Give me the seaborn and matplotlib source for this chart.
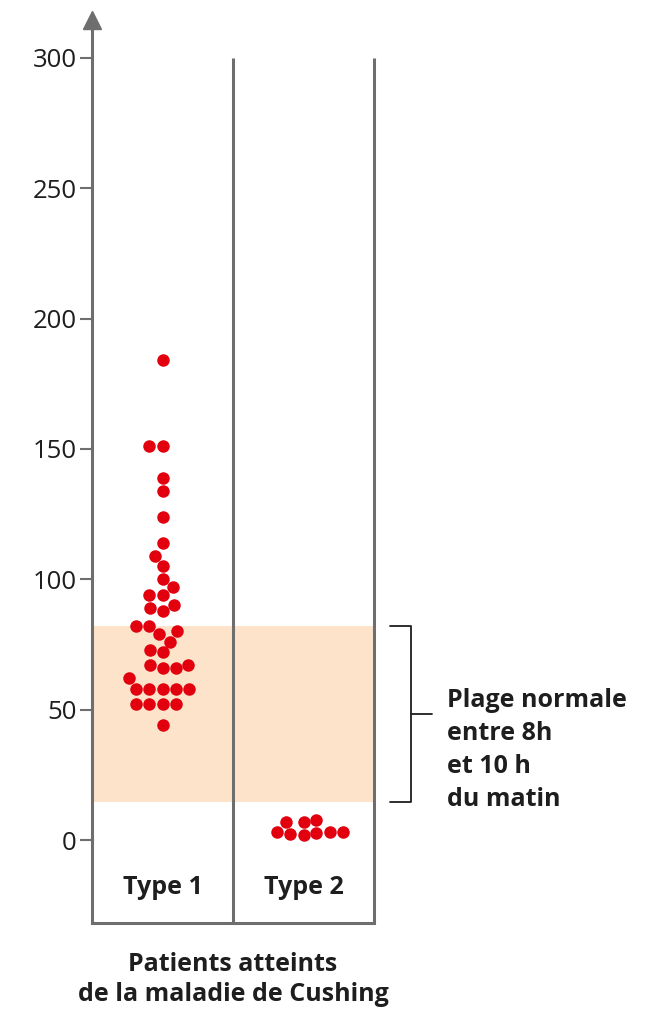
"""Cortisol levels of Cushing patients, dot plot with the normal morning range."""
import matplotlib
matplotlib.use("Agg")
import matplotlib.pyplot as plt
import pandas as pd
import seaborn as sns

CATEGORIES = ["Type 1", "Type 2"]
TYPE1_VALUES = [184, 151, 151, 139, 134, 124, 114, 109, 105, 100, 97, 94, 94,
                90, 89, 88, 82, 80, 82, 79, 76, 73, 72, 67, 67, 66, 66, 62,
                58, 58, 58, 58, 58, 52, 52, 52, 52, 44]
TYPE2_VALUES = [3, 2.5, 7, 3, 7, 2, 7.7, 3.2, 2.8]
NORMAL_RANGE = (14.5, 82)
Y_TICKS = [0, 50, 100, 150, 200, 250, 300]
RANGE_LABEL = "Plage normale\nentre 8h\net 10 h\ndu matin"
X_LABEL = "Patients atteints\nde la maladie de Cushing"

DOT_COLOR = "#e2000f"
AXIS_COLOR = "#6e6e6e"
BAND_COLOR = "#fde3c9"
TEXT_COLOR = "#1e1e1e"

df = pd.DataFrame({
    "type": [CATEGORIES[0]] * len(TYPE1_VALUES) + [CATEGORIES[1]] * len(TYPE2_VALUES),
    "value": TYPE1_VALUES + TYPE2_VALUES,
})

sns.set_theme(style="white")
plt.rcParams["font.family"] = ["Open Sans", "DejaVu Sans"]

fig = plt.figure(figsize=(6.64, 10.11), dpi=100)
ax = fig.add_axes([92 / 664, 88 / 1011, 282 / 664, 903 / 1011])

y_top = 314.5
ax.axhspan(*NORMAL_RANGE, xmin=0, xmax=1, color=BAND_COLOR, lw=0, zorder=0)
sns.swarmplot(data=df, x="type", y="value", order=CATEGORIES, color=DOT_COLOR,
              size=9, linewidth=0, ax=ax, zorder=3)

ax.set_xlim(-0.5, 1.5)
ax.set_ylim(-31.8, y_top)

# column dividers
ax.vlines([0.5, 1.5], -31.8, 300, color=AXIS_COLOR, lw=2.2, zorder=2, clip_on=False)

# spines + arrow
for side in ["top", "right"]:
    ax.spines[side].set_visible(False)
for side in ["left", "bottom"]:
    ax.spines[side].set_color(AXIS_COLOR)
    ax.spines[side].set_linewidth(2.2)
ax.plot([-0.5], [y_top], marker="^", markersize=13, color=AXIS_COLOR,
        clip_on=False, zorder=5)

ax.set_yticks(Y_TICKS)
ax.set_yticklabels([str(t) for t in Y_TICKS], fontsize=18.5, color=TEXT_COLOR)
ax.tick_params(axis="y", direction="out", length=9, width=1.5, color=AXIS_COLOR, pad=2, left=True)
ax.set_xticks([])
ax.set_ylabel("")

# category labels inside the box
for i, cat in enumerate(CATEGORIES):
    ax.text(i, -18, cat, ha="center", va="center", fontsize=18,
            fontweight="bold", color=TEXT_COLOR)

ax.set_xlabel(X_LABEL, fontsize=18, fontweight="bold", color=TEXT_COLOR,
              labelpad=21, linespacing=1.28)

# bracket for the normal range
lo, hi = NORMAL_RANGE
mid = (lo + hi) / 2
bx = 1.762
ax.plot([1.613, bx, bx, 1.613], [hi, hi, lo, lo], color=TEXT_COLOR, lw=1.3, clip_on=False)
ax.plot([bx, 1.911], [mid, mid], color=TEXT_COLOR, lw=1.3, clip_on=False)
ax.text(2.018, 34.5, RANGE_LABEL, ha="left", va="center", fontsize=18,
        fontweight="bold", color=TEXT_COLOR, linespacing=1.42)

plt.savefig("out.png", dpi=100)
plt.close()
